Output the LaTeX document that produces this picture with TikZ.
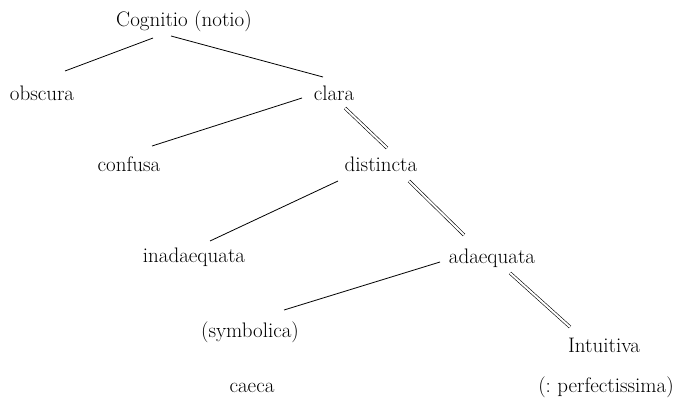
\documentclass[tikz,border=0pt]{standalone}
\usetikzlibrary{calc}
\frenchspacing
\begin{document}
\begin{tikzpicture}[x=1pt,y=-1pt,
  term/.style={anchor=base,inner sep=0pt,font=\fontsize{21}{25}\selectfont},
  link/.style={line width=0.8pt},
  strong/.style={double,double distance=2pt,line width=0.6pt}]
\useasboundingbox (0,0) rectangle (684,398);
\node[term] (cog) at (184,27) {Cognitio (notio)};
\node[term] (obs) at (42,101) {obscura};
\node[term] (cla) at (334,101) {clara};
\node[term] (con) at (129,171) {confusa};
\node[term] (dis) at (381,171) {distincta};
\node[term] (ina) at (194,262) {inadaequata};
\node[term] (ada) at (492,263) {adaequata};
\node[term] (sym) at (250,337) {(symbolica)};
\node[term] (int) at (604,352) {Intuitiva};
\node[term] (cae) at (252,392) {caeca};
\node[term] (per) at (606,392) {(: perfectissima)};
\draw[link] ($(cog.base)+(-31,11)$) -- ($(obs.base)+(23,-30)$);
\draw[link] ($(cog.base)+(-13,9)$) -- ($(cla.base)+(-11,-24)$);
\draw[link] ($(cla.base)+(-32,-3)$) -- ($(con.base)+(23,-25)$);
\draw[strong] ($(cla.base)+(11,7)$) -- ($(dis.base)+(6,-23)$);
\draw[link] ($(dis.base)+(-43,10)$) -- ($(ina.base)+(16,-21)$);
\draw[strong] ($(dis.base)+(28,10)$) -- ($(ada.base)+(-28,-28)$);
\draw[link] ($(ada.base)+(-52,-1)$) -- ($(sym.base)+(34,-27)$);
\draw[strong] ($(ada.base)+(18,10)$) -- ($(int.base)+(-34,-25)$);
\end{tikzpicture}
\end{document}
